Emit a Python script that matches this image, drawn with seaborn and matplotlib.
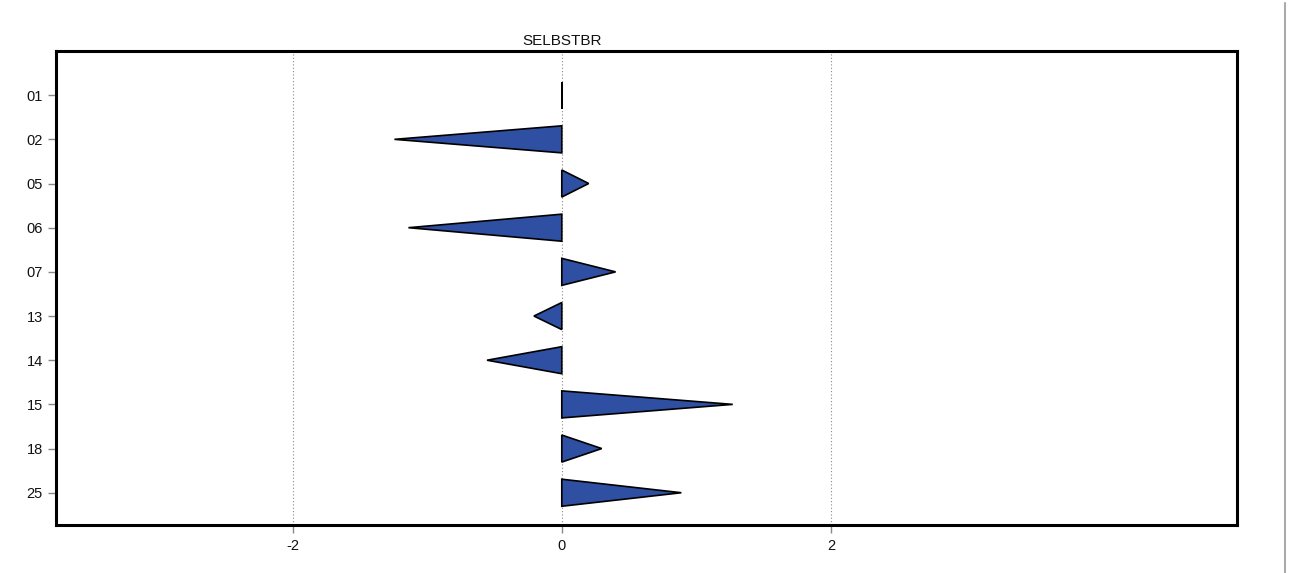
import numpy as np
import seaborn as sns
import matplotlib.pyplot as plt
from matplotlib.lines import Line2D

# categories and values
categories = ['01', '02', '05', '06', '07', '13', '14', '15', '18', '25']
values = [0.0, -1.244, 0.20, -1.14, 0.40, -0.207, -0.556, 1.271, 0.297, 0.889]
title = 'SELBSTBR'
xticks = [-2, 0, 2]

sns.set_style('white')
plt.rcParams['font.family'] = ['Liberation Sans', 'DejaVu Sans']

fig = plt.figure(figsize=(12.91, 5.73), dpi=100)
ax = fig.add_axes([0.0434, 0.0838, 0.9148, 0.8272])

half = 0.306
for i, v in enumerate(values):
    # triangle: base on the zero line, tip at the value
    xs = [0, v, 0]
    ys = [i - half, i, i + half]
    ax.fill(xs, ys, facecolor='#2f4fa3', edgecolor='black', linewidth=1.2, zorder=3)

ax.set_xlim(-3.76, 5.02)
ax.set_ylim(9.73, -1.0)
ax.set_yticks(range(len(categories)))
ax.set_yticklabels(categories)
ax.set_xticks(xticks)
ax.set_xticklabels([str(t) for t in xticks])

ax.grid(axis='x', color='#888888', linestyle=(0, (1, 2)), linewidth=0.8, zorder=0)
ax.grid(axis='y', visible=False)
for s in ax.spines.values():
    s.set_visible(True)
    s.set_color('black')
    s.set_linewidth(2.2)

ax.tick_params(axis='both', which='major', length=6, width=1, color='#888888',
               labelsize=10.5, labelcolor='#111111', direction='out',
               left=True, bottom=True, pad=3.5)
ax.tick_params(axis='x', pad=4)

ax.text(0, 1.006, title, transform=ax.get_xaxis_transform(),
        ha='center', va='bottom', fontsize=11, color='#111111')

# thin gray divider on the right edge
fig.add_artist(Line2D([1285 / 1291, 1285 / 1291], [0, 0.995],
                      transform=fig.transFigure, color='#aaaaaa', linewidth=1.5))

fig.savefig('out.png', dpi=100)
